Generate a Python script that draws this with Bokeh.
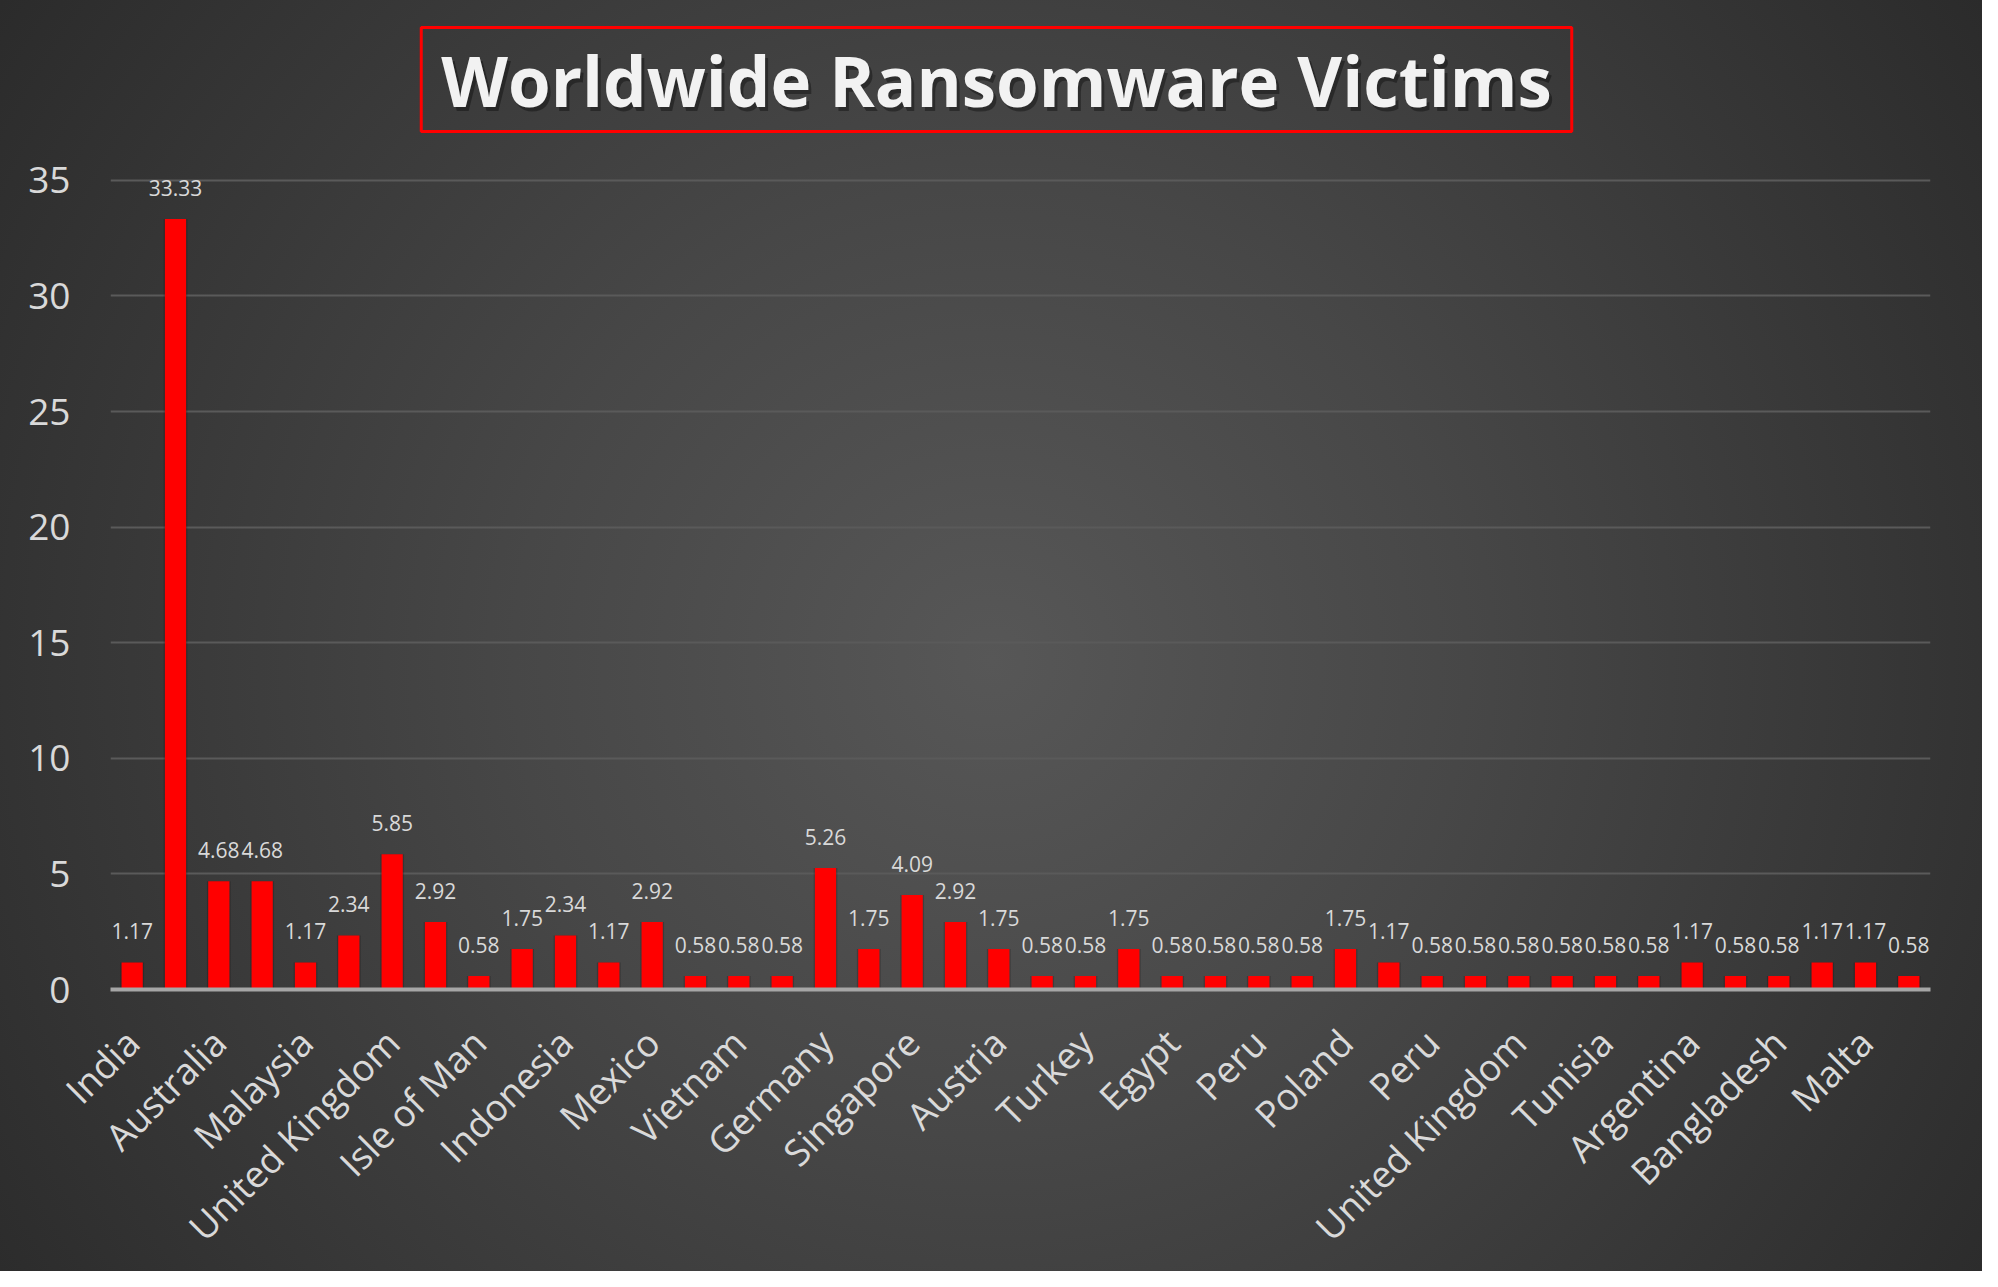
from bokeh.plotting import figure
from bokeh.models import ColumnDataSource, FixedTicker, Label, Range1d
from bokeh.core.properties import value
from bokeh.embed import file_html
from bokeh.resources import INLINE

title_text = "Worldwide Ransomware Victims"

# every other bar carries a visible category label
labeled_countries = [
    "India", "Australia", "Malaysia", "United Kingdom", "Isle of Man",
    "Indonesia", "Mexico", "Vietnam", "Germany", "Singapore", "Austria",
    "Turkey", "Egypt", "Peru", "Poland", "Peru", "United Kingdom",
    "Tunisia", "Argentina", "Bangladesh", "Malta",
]

victims_pct = [
    1.17, 33.33, 4.68, 4.68, 1.17, 2.34, 5.85, 2.92, 0.58, 1.75,
    2.34, 1.17, 2.92, 0.58, 0.58, 0.58, 5.26, 1.75, 4.09, 2.92,
    1.75, 0.58, 0.58, 1.75, 0.58, 0.58, 0.58, 0.58, 1.75, 1.17,
    0.58, 0.58, 0.58, 0.58, 0.58, 0.58, 1.17, 0.58, 0.58, 1.17,
    1.17, 0.58,
]

y_ticks = [0, 5, 10, 15, 20, 25, 30, 35]

n = len(victims_pct)
xs = list(range(n))
label_ticks = xs[::2]

src = ColumnDataSource(dict(
    x=xs,
    top=victims_pct,
    lbl=["%.2f" % v for v in victims_pct],
))

FONT = "Open Sans"
TXT = "#d9d9d9"

p = figure(
    width=1982, height=1271,
    x_range=Range1d(-0.5, n - 0.5),
    y_range=Range1d(0, 42.78),
    output_backend="svg",
    toolbar_location=None,
    min_border_left=110, min_border_right=52,
    min_border_top=0, min_border_bottom=281,
)
p.styles = {
    "background-image": "radial-gradient(circle farthest-corner at 50% 52%, #575757 0%, #474747 40%, #2b2b2b 100%)",
}
p.background_fill_alpha = 0
p.border_fill_alpha = 0
p.outline_line_color = None

# bar shadows
p.vbar(x="x", top="top", bottom=0, width=0.55, source=src,
       fill_color="black", fill_alpha=0.18, line_color=None)
p.vbar(x="x", top="top", bottom=0, width=0.49, source=src,
       fill_color="#ff0000", line_color=None)

p.text(x="x", y="top", text="lbl", source=src,
       text_font=value(FONT), text_font_size="21px", text_color=TXT,
       text_align="center", text_baseline="alphabetic", y_offset=-31)

# axes
p.xaxis.ticker = FixedTicker(ticks=label_ticks)
p.xaxis.major_label_overrides = {t: labeled_countries[i] for i, t in enumerate(label_ticks)}
p.xaxis.major_label_orientation = 0.785398
p.xaxis.major_label_text_font = FONT
p.xaxis.major_label_text_font_size = "37px"
p.xaxis.major_label_text_color = TXT
p.xaxis.major_label_standoff = 40
p.xaxis.major_tick_line_color = None
p.xaxis.minor_tick_line_color = None
p.xaxis.axis_line_color = "#a6a6a6"
p.xaxis.axis_line_width = 4

p.yaxis.ticker = FixedTicker(ticks=y_ticks)
p.yaxis.major_label_text_font = FONT
p.yaxis.major_label_text_font_size = "37px"
p.yaxis.major_label_text_color = TXT
p.yaxis.major_label_standoff = 34
p.yaxis.major_tick_line_color = None
p.yaxis.minor_tick_line_color = None
p.yaxis.axis_line_color = None

p.xgrid.grid_line_color = None
p.ygrid.ticker = FixedTicker(ticks=y_ticks[1:])
p.ygrid.grid_line_color = "#5a5a5a"
p.ygrid.grid_line_width = 2

# title box
shadow = Label(x=889, y=906, x_units="screen", y_units="screen", text=title_text,
               text_font=FONT, text_font_style="bold", text_font_size="69px",
               text_color="black", text_alpha=0.35,
               text_align="center", text_baseline="middle")
p.add_layout(shadow)
title = Label(x=886, y=910, x_units="screen", y_units="screen", text=title_text,
              text_font=FONT, text_font_style="bold", text_font_size="69px",
              text_color="#f2f2f2", text_align="center", text_baseline="middle",
              border_line_color="#ff0000", border_line_width=3,
              padding=(20, 20, 5, 5))
p.add_layout(title)

open("out.html", "w").write(file_html(p, INLINE))
